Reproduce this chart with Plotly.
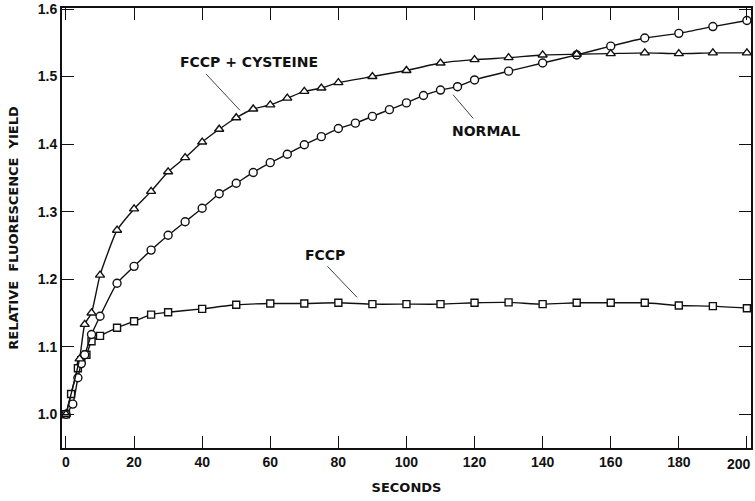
import plotly.graph_objects as go

# ---- data ----
normal_t = [0, 2, 3.5, 4.5, 5.5, 7.5, 10, 15, 20, 25, 30, 35, 40, 45, 50, 55, 60, 65,
            70, 75, 80, 85, 90, 95, 100, 105, 110, 115, 120, 130, 140, 150, 160,
            170, 180, 190, 200]
normal_y = [1.0, 1.015, 1.054, 1.075, 1.088, 1.118, 1.145, 1.194, 1.219, 1.243, 1.265,
            1.285, 1.305, 1.3265, 1.342, 1.358, 1.3725, 1.385, 1.399, 1.411, 1.423,
            1.431, 1.441, 1.451, 1.461, 1.472, 1.480, 1.485, 1.495, 1.508, 1.520,
            1.532, 1.545, 1.557, 1.564, 1.574, 1.583]

cys_t = [0, 4, 5.5, 7.5, 10, 15, 20, 25, 30, 35, 40, 45, 50, 55, 60, 65, 70, 75, 80,
         90, 100, 110, 120, 130, 140, 150, 160, 170, 180, 190, 200]
cys_y = [1.0, 1.082, 1.133, 1.150, 1.206, 1.2725, 1.304, 1.330, 1.359, 1.380, 1.403,
         1.422, 1.439, 1.452, 1.458, 1.468, 1.478, 1.483, 1.491, 1.500, 1.509, 1.520,
         1.525, 1.528, 1.532, 1.533, 1.534, 1.535, 1.534, 1.535, 1.535]

fccp_t = [0, 1.5, 3.5, 4.5, 6, 7.5, 10, 15, 20, 25, 30, 40, 50, 60, 70, 80, 90, 100,
          110, 120, 130, 140, 150, 160, 170, 180, 190, 200]
fccp_y = [1.0, 1.03, 1.068, 1.080, 1.088, 1.108, 1.116, 1.128, 1.1376, 1.1475, 1.151,
          1.156, 1.162, 1.164, 1.164, 1.165, 1.163, 1.163, 1.163, 1.165, 1.1656, 1.163,
          1.165, 1.165, 1.165, 1.161, 1.160, 1.157]

x_ticks = [0, 20, 40, 60, 80, 100, 120, 140, 160, 180, 200]
x_tick_text = ["0", "20", "40", "60", "80", "100", "120", "140", "160", "180", "200"]
y_ticks = [1.0, 1.1, 1.2, 1.3, 1.4, 1.5, 1.6]
y_tick_text = ["1.0", "1.1", "1.2", "1.3", "1.4", "1.5", "1.6"]

labels = [
    # text, x, y, leader from (x0,y0) to (x1,y1)
    ("FCCP + CYSTEINE", 53.7, 1.522, 41.1, 1.504, 51.1, 1.450),
    ("NORMAL", 123.3, 1.420, 119.6, 1.438, 113.7, 1.473),
    ("FCCP", 76.1, 1.236, 76.8, 1.219, 85.5, 1.173),
]

TICK_FONT = "Liberation Sans"
TEXT_FONT = "DejaVu Sans"
INK = "#111111"
tickfont = dict(family=TICK_FONT, size=14, color=INK, weight="bold")

fig = go.Figure()

def add_series(t, y, symbol, size):
    fig.add_trace(go.Scatter(
        x=t, y=y, mode="lines+markers",
        line=dict(color=INK, width=1.4, shape="spline", smoothing=0.5),
        marker=dict(symbol=symbol, size=size, color="white",
                    line=dict(color=INK, width=1.4)),
        showlegend=False, cliponaxis=False,
    ))

add_series(fccp_t, fccp_y, "square", 7)
add_series(normal_t, normal_y, "circle", 8)
add_series(cys_t, cys_y, "triangle-up", 8)

for text, tx, ty, x0, y0, x1, y1 in labels:
    fig.add_annotation(x=tx, y=ty, text=text, showarrow=False,
                       font=dict(family=TEXT_FONT, size=14, color=INK, weight="bold"))
    fig.add_shape(type="line", x0=x0, y0=y0, x1=x1, y1=y1,
                  line=dict(color=INK, width=0.8))

# last x tick label sits slightly left of its tick (at the plot corner) as in the original
fig.add_annotation(x=x_ticks[-1], xref="x", y=0, yref="paper", yanchor="top",
                   yshift=-6, xshift=-8, text=x_tick_text[-1], showarrow=False,
                   font=tickfont)

fig.update_xaxes(
    range=[-1.17, 201.2], tickvals=x_ticks,
    ticktext=x_tick_text[:-1] + [""],
    ticks="inside", ticklen=12, tickwidth=1, tickcolor=INK,
    showline=True, linecolor=INK, linewidth=2, mirror="ticks",
    showgrid=False, zeroline=False, automargin=False,
    tickfont=tickfont,
    title=dict(text="SECONDS", standoff=14,
               font=dict(family=TEXT_FONT, size=13, color=INK, weight="bold")),
)
fig.update_yaxes(
    range=[0.95, 1.6015], tickvals=y_ticks, ticktext=y_tick_text,
    ticks="inside", ticklen=12, tickwidth=1, tickcolor=INK,
    showline=True, linecolor=INK, linewidth=2, mirror="ticks",
    showgrid=False, zeroline=False, automargin=False, ticklabeloverflow="allow",
    tickfont=tickfont,
    title=dict(text="RELATIVE  FLUORESCENCE  YIELD", standoff=16,
               font=dict(family=TEXT_FONT, size=13, color=INK, weight="bold")),
)

fig.update_layout(
    width=755, height=501,
    margin=dict(l=62, r=4, t=8, b=53),
    paper_bgcolor="white", plot_bgcolor="white",
)

fig.write_html("out.html")
